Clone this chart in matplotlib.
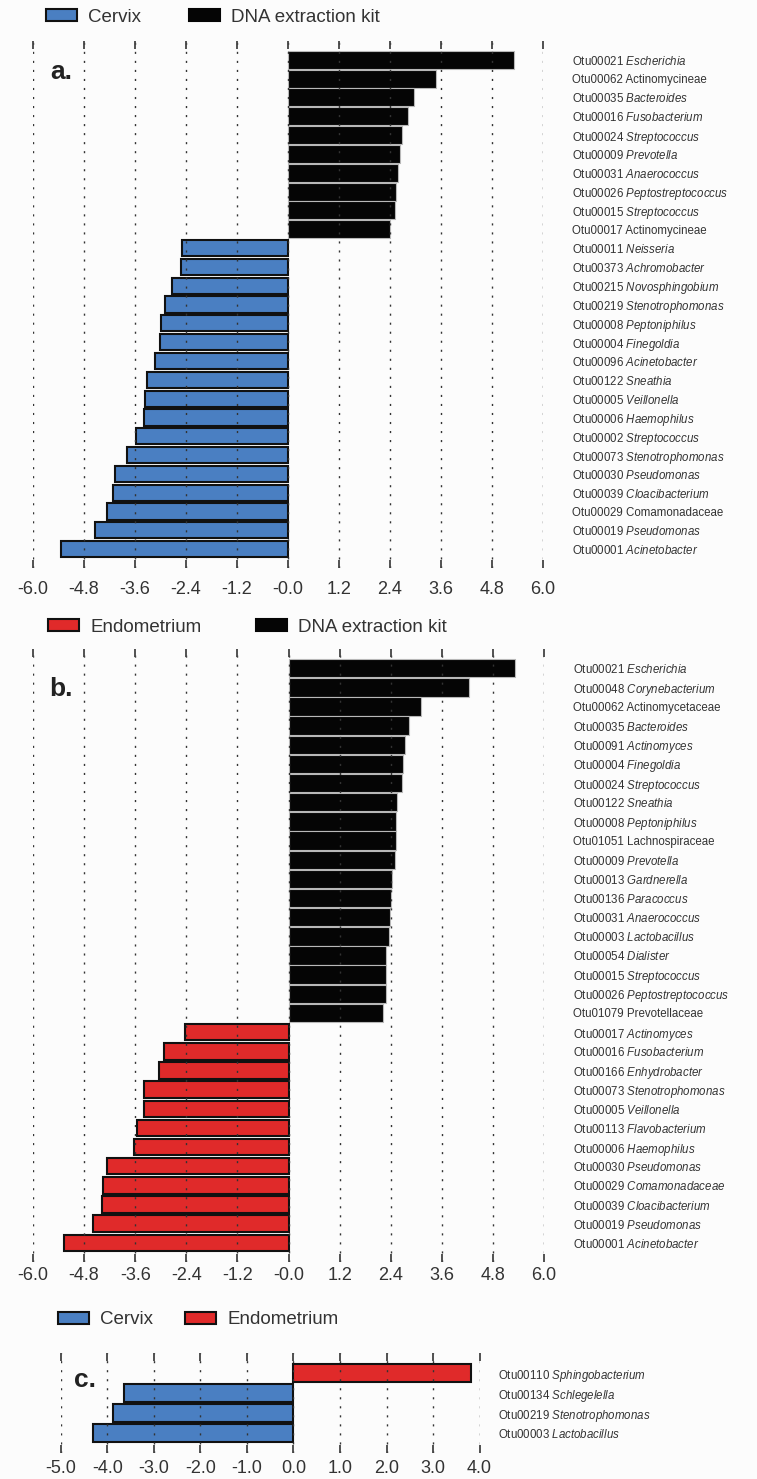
import numpy as np
import matplotlib
matplotlib.use("Agg")
import matplotlib.pyplot as plt
from matplotlib.patches import Patch

plt.rcParams['font.family'] = ['Liberation Sans', 'DejaVu Sans']
plt.rcParams['mathtext.fontset'] = 'custom'
plt.rcParams['mathtext.rm'] = 'Liberation Sans'
plt.rcParams['mathtext.it'] = 'Liberation Sans:italic'

# ---------------- data ----------------
a_otus = ["Otu00021", "Otu00062", "Otu00035", "Otu00016", "Otu00024", "Otu00009",
          "Otu00031", "Otu00026", "Otu00015", "Otu00017", "Otu00011", "Otu00373",
          "Otu00215", "Otu00219", "Otu00008", "Otu00004", "Otu00096", "Otu00122",
          "Otu00005", "Otu00006", "Otu00002", "Otu00073", "Otu00030", "Otu00039",
          "Otu00029", "Otu00019", "Otu00001"]
a_taxa = ["Escherichia", "Actinomycineae", "Bacteroides", "Fusobacterium", "Streptococcus",
          "Prevotella", "Anaerococcus", "Peptostreptococcus", "Streptococcus", "Actinomycineae",
          "Neisseria", "Achromobacter", "Novosphingobium", "Stenotrophomonas", "Peptoniphilus",
          "Finegoldia", "Acinetobacter", "Sneathia", "Veillonella", "Haemophilus",
          "Streptococcus", "Stenotrophomonas", "Pseudomonas", "Cloacibacterium",
          "Comamonadaceae", "Pseudomonas", "Acinetobacter"]
a_italic = [1, 0, 1, 1, 1, 1, 1, 1, 1, 0, 1, 1, 1, 1, 1, 1, 1, 1, 1, 1, 1, 1, 1, 1, 0, 1, 1]
a_values = [5.31, 3.49, 2.97, 2.82, 2.68, 2.64, 2.58, 2.54, 2.51, 2.41,
            -2.49, -2.52, -2.74, -2.90, -2.98, -3.02, -3.14, -3.31, -3.37, -3.38,
            -3.57, -3.80, -4.08, -4.12, -4.25, -4.53, -5.33]

b_otus = ["Otu00021", "Otu00048", "Otu00062", "Otu00035", "Otu00091", "Otu00004",
          "Otu00024", "Otu00122", "Otu00008", "Otu01051", "Otu00009", "Otu00013",
          "Otu00136", "Otu00031", "Otu00003", "Otu00054", "Otu00015", "Otu00026",
          "Otu01079", "Otu00017", "Otu00016", "Otu00166", "Otu00073", "Otu00005",
          "Otu00113", "Otu00006", "Otu00030", "Otu00029", "Otu00039", "Otu00019",
          "Otu00001"]
b_taxa = ["Escherichia", "Corynebacterium", "Actinomycetaceae", "Bacteroides", "Actinomyces",
          "Finegoldia", "Streptococcus", "Sneathia", "Peptoniphilus", "Lachnospiraceae",
          "Prevotella", "Gardnerella", "Paracoccus", "Anaerococcus", "Lactobacillus",
          "Dialister", "Streptococcus", "Peptostreptococcus", "Prevotellaceae", "Actinomyces",
          "Fusobacterium", "Enhydrobacter", "Stenotrophomonas", "Veillonella", "Flavobacterium",
          "Haemophilus", "Pseudomonas", "Comamonadaceae", "Cloacibacterium", "Pseudomonas",
          "Acinetobacter"]
b_italic = [1, 1, 0, 1, 1, 1, 1, 1, 1, 0, 1, 1, 1, 1, 1, 1, 1, 1, 0, 1,
            1, 1, 1, 1, 1, 1, 1, 1, 1, 1, 1]
b_values = [5.31, 4.23, 3.12, 2.82, 2.74, 2.69, 2.66, 2.54, 2.53, 2.53,
            2.51, 2.42, 2.41, 2.38, 2.37, 2.30, 2.30, 2.29, 2.22,
            -2.43, -2.92, -3.04, -3.40, -3.40, -3.55, -3.62, -4.26, -4.35, -4.38,
            -4.58, -5.27]

c_otus = ["Otu00110", "Otu00134", "Otu00219", "Otu00003"]
c_taxa = ["Sphingobacterium", "Schlegelella", "Stenotrophomonas", "Lactobacillus"]
c_italic = [1, 1, 1, 1]
c_values = [3.81, -3.64, -3.87, -4.31]

ab_xticks = [-6.0, -4.8, -3.6, -2.4, -1.2, 0.0, 1.2, 2.4, 3.6, 4.8, 6.0]
ab_xticklabels = ["-6.0", "-4.8", "-3.6", "-2.4", "-1.2", "-0.0", "1.2", "2.4", "3.6", "4.8", "6.0"]
c_xticks = [-5.0, -4.0, -3.0, -2.0, -1.0, 0.0, 1.0, 2.0, 3.0, 4.0]
c_xticklabels = ["-5.0", "-4.0", "-3.0", "-2.0", "-1.0", "0.0", "1.0", "2.0", "3.0", "4.0"]

BLUE = "#4a7fc2"
RED = "#e02a2a"
BLACK = "#050505"

# ---------------- figure ----------------
W, H, DPI = 757, 1479, 100
fig = plt.figure(figsize=(W / DPI, H / DPI), dpi=DPI, facecolor="#fcfcfc")


def px_axes(left, top, right, bottom):
    return fig.add_axes([left / W, 1 - bottom / H, (right - left) / W, (bottom - top) / H])


def make_label(otu, taxon, it):
    if it:
        return otu + " $\\mathit{" + taxon + "}$"
    return otu + " " + taxon


def draw_panel(ax, otus, taxa, italic, values, pos_color, neg_color, xticks, xticklabels,
               xlim, xpad, ypad):
    n = len(values)
    y = np.arange(n)
    vals = np.array(values)
    pos = vals > 0
    ax.set_facecolor("#fcfcfc")
    if pos_color == BLACK:
        ax.barh(y[pos], vals[pos], height=0.96, color=BLACK, edgecolor="#b8b8b8",
                linewidth=0.8, zorder=2)
    else:
        ax.barh(y[pos], vals[pos], height=0.86, color=pos_color, edgecolor="#111111",
                linewidth=1.5, zorder=2)
    ax.barh(y[~pos], vals[~pos], height=0.86, color=neg_color, edgecolor="#111111",
            linewidth=1.5, zorder=2)
    ax.set_xlim(*xlim)
    ax.set_ylim(n - 1 + 1.0, -1.0)
    ax.set_xticks(xticks)
    ax.set_xticklabels(xticklabels)
    ax.grid(axis="x", linestyle=(0, (1.5, 5)), color="#333333", linewidth=1.0, zorder=3)
    ax.grid(axis="y", visible=False)
    ax.set_axisbelow(False)
    ax.tick_params(axis="x", top=True, bottom=True, direction="in", length=6, width=1.3,
                   color="#444444", labelsize=13, labelcolor="#333333", pad=xpad)
    ax.yaxis.tick_right()
    ax.set_yticks(y)
    ax.set_yticklabels([make_label(o, t, i) for o, t, i in zip(otus, taxa, italic)])
    ax.tick_params(axis="y", length=0, pad=ypad, labelsize=8.3, labelcolor="#333333")
    for s in ax.spines.values():
        s.set_visible(False)


def legend_item(x_px, y_px, color, label):
    ec = BLACK if color == BLACK else "#111111"
    h = Patch(facecolor=color, edgecolor=ec, linewidth=1.5, label=label)
    leg = fig.legend(handles=[h], loc="center left", bbox_to_anchor=(x_px / W, 1 - y_px / H),
                     frameon=False, fontsize=13.5, handlelength=1.65, handleheight=0.55,
                     handletextpad=0.6, borderpad=0, borderaxespad=0)
    for t in leg.get_texts():
        t.set_color("#333333")


# panel a
ax_a = px_axes(33, 41, 543, 568)
draw_panel(ax_a, a_otus, a_taxa, a_italic, a_values, BLACK, BLUE, ab_xticks, ab_xticklabels,
           (-6.0, 6.0), 9, 21)
legend_item(46, 17, BLUE, "Cervix")
legend_item(189, 17, BLACK, "DNA extraction kit")
fig.text(50 / W, 1 - 72 / H, "a.", fontsize=19, fontweight="bold", color="#222222",
         ha="left", va="center")

# panel b
ax_b = px_axes(33, 649, 544, 1262)
draw_panel(ax_b, b_otus, b_taxa, b_italic, b_values, BLACK, RED, ab_xticks, ab_xticklabels,
           (-6.0, 6.0), 3.5, 21)
legend_item(48, 627, RED, "Endometrium")
legend_item(256, 627, BLACK, "DNA extraction kit")
fig.text(49 / W, 1 - 689 / H, "b.", fontsize=19, fontweight="bold", color="#222222",
         ha="left", va="center")

# panel c
ax_c = px_axes(60.7, 1353, 479.6, 1453)
draw_panel(ax_c, c_otus, c_taxa, c_italic, c_values, RED, BLUE, c_xticks, c_xticklabels,
           (-5.0, 4.0), 5, 13)
legend_item(58, 1320, BLUE, "Cervix")
legend_item(185, 1320, RED, "Endometrium")
fig.text(74 / W, 1 - 1380 / H, "c.", fontsize=19, fontweight="bold", color="#222222",
         ha="left", va="center")

fig.savefig("out.png", dpi=DPI, facecolor=fig.get_facecolor())
